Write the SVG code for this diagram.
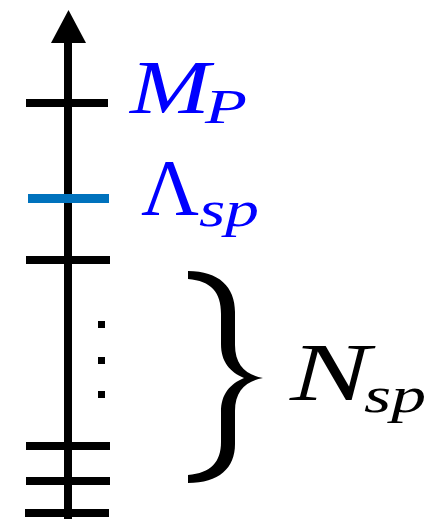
<svg xmlns="http://www.w3.org/2000/svg" width="438" height="519" viewBox="0 0 438 519">
<style>
.tick{stroke:#000;stroke-width:8;fill:none}
.lbl{font-family:"Liberation Serif",serif;font-style:italic}
.up{font-family:"Liberation Serif",serif;font-style:normal}
.blue{fill:#0000ff}
</style>
<rect width="438" height="519" fill="#fff"/>
<g id="axis">
<line x1="68" y1="40" x2="68" y2="519" class="tick"/>
<polygon points="68.5,10 51,43 86,43" fill="#000"/>
</g>
<g id="ticks">
<line x1="26" y1="103" x2="108" y2="103" class="tick"/>
<line x1="28" y1="198.5" x2="109" y2="198.5" stroke="#0072bd" stroke-width="9"/>
<line x1="26" y1="260" x2="110" y2="260" class="tick"/>
<line x1="26" y1="446" x2="110" y2="446" class="tick"/>
<line x1="26" y1="481" x2="110" y2="481" class="tick"/>
<line x1="25" y1="513" x2="109" y2="513" class="tick"/>
</g>
<g id="dots" fill="#000">
<rect x="98" y="321" width="7" height="7"/>
<rect x="98" y="357" width="7" height="7"/>
<rect x="98" y="391" width="7" height="7"/>
</g>
<g id="brace">
<path d="M188,271 C219,271 235,287 235,312 L235,345 C235,365 246,375 263,378 C246,381 235,391 235,411 L235,444 C235,468 219,483 188,483 L188,475 C211,473 221,462 221,442 L221,412 C221,394 230,384 244,378 C230,372 221,362 221,344 L221,314 C221,292 211,281 188,279 Z" fill="#000"/>
</g>
<g id="label-MP" class="blue">
<text x="130" y="113" class="lbl" font-size="76" textLength="80" lengthAdjust="spacingAndGlyphs">M</text>
<text x="205" y="123" class="lbl" font-size="48" textLength="42" lengthAdjust="spacingAndGlyphs">P</text>
</g>
<g id="label-Lambda" class="blue">
<text x="141" y="215" class="up" font-size="80" textLength="58" lengthAdjust="spacingAndGlyphs">Λ</text>
<text x="199" y="226" class="lbl" font-size="50" textLength="60" lengthAdjust="spacingAndGlyphs">sp</text>
</g>
<g id="label-N">
<text x="290" y="400" class="lbl" font-size="82" textLength="80" lengthAdjust="spacingAndGlyphs">N</text>
<text x="364" y="412" class="lbl" font-size="50" textLength="62" lengthAdjust="spacingAndGlyphs">sp</text>
</g>
</svg>
